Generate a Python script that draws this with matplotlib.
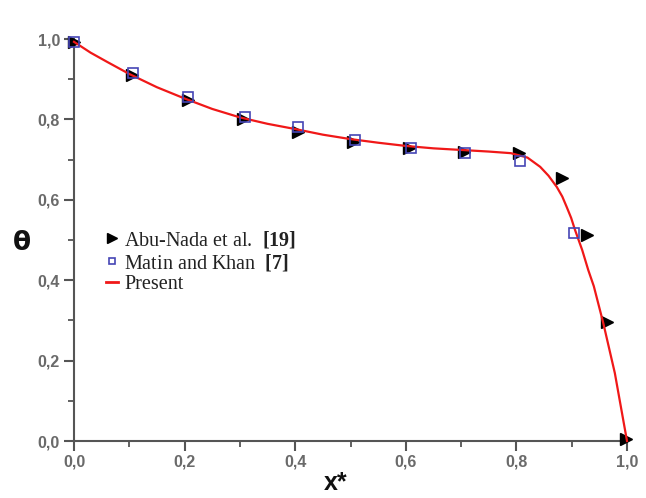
import matplotlib
matplotlib.use("Agg")
import matplotlib.pyplot as plt
from matplotlib.ticker import MultipleLocator, FuncFormatter
from matplotlib.lines import Line2D

# Abu-Nada et al. [19]
abu_x = [0.0, 0.105, 0.206, 0.306, 0.405, 0.505, 0.606, 0.705, 0.805, 0.882, 0.927, 0.963, 0.998]
abu_y = [0.993, 0.910, 0.848, 0.801, 0.769, 0.744, 0.729, 0.719, 0.716, 0.654, 0.512, 0.296, 0.005]

# Matin and Khan [7]
matin_x = [0.0, 0.107, 0.206, 0.309, 0.405, 0.508, 0.609, 0.707, 0.806, 0.904]
matin_y = [0.993, 0.915, 0.856, 0.806, 0.781, 0.749, 0.729, 0.716, 0.697, 0.517]

# Present results
present_x = [0.0, 0.03, 0.06, 0.1, 0.15, 0.2, 0.25, 0.3, 0.35, 0.4, 0.45, 0.5, 0.55,
             0.6, 0.65, 0.7, 0.75, 0.79, 0.82, 0.843, 0.858, 0.873, 0.883, 0.891,
             0.899, 0.906, 0.919, 0.930, 0.940, 0.957, 0.978, 1.0]
present_y = [0.993, 0.966, 0.943, 0.913, 0.880, 0.852, 0.826, 0.805, 0.789, 0.776,
             0.762, 0.751, 0.742, 0.734, 0.728, 0.724, 0.720, 0.716, 0.705, 0.682,
             0.660, 0.632, 0.608, 0.582, 0.555, 0.525, 0.475, 0.425, 0.385, 0.294,
             0.169, 0.0]

x_ticks = [0.0, 0.2, 0.4, 0.6, 0.8, 1.0]
y_ticks = [0.0, 0.2, 0.4, 0.6, 0.8, 1.0]

plt.rcParams["mathtext.fontset"] = "custom"
plt.rcParams["mathtext.bf"] = "Liberation Serif:bold"
plt.rcParams["mathtext.rm"] = "Liberation Serif"

fig = plt.figure(figsize=(6.46, 4.98), dpi=100)
ax = fig.add_axes([74 / 646, 1 - 441 / 498, 553 / 646, 402 / 498])

spine_col = "#555555"
ax.plot(abu_x, abu_y, linestyle="none", marker=">", markersize=9,
        color="black", clip_on=False, zorder=3)
ax.plot(present_x, present_y, color="#f01818", linewidth=1.6,
        clip_on=False, zorder=4)
ax.plot(matin_x, matin_y, linestyle="none", marker="s", markersize=7,
        markerfacecolor="none", markeredgecolor="#4545b5",
        markeredgewidth=1.2, clip_on=False, zorder=5)

ax.set_xlim(0, 1)
ax.set_ylim(0, 1)
for side in ("top", "right"):
    ax.spines[side].set_visible(False)
for side in ("left", "bottom"):
    ax.spines[side].set_color(spine_col)
    ax.spines[side].set_linewidth(1.5)

ax.set_xticks(x_ticks)
ax.set_yticks(y_ticks)
ax.xaxis.set_minor_locator(MultipleLocator(0.1))
ax.yaxis.set_minor_locator(MultipleLocator(0.1))
fmt = FuncFormatter(lambda v, p: f"{v:.1f}".replace(".", ","))
ax.xaxis.set_major_formatter(fmt)
ax.yaxis.set_major_formatter(fmt)
ax.tick_params(which="major", direction="out", length=7, width=1.5,
               color=spine_col, labelsize=11.5, labelcolor="#6a6a6a", pad=3)
ax.tick_params(which="minor", direction="out", length=4, width=1.3, color=spine_col)
for lbl in ax.get_xticklabels() + ax.get_yticklabels():
    lbl.set_fontweight("bold")
    lbl.set_family("Liberation Sans")

ax.set_ylabel("θ", rotation=0, fontsize=19, fontweight="bold",
              family="DejaVu Sans", color="#111111", va="center", ha="center")
ax.yaxis.set_label_coords(-0.094, 0.4925)
ax.set_xlabel("x*", fontsize=18, fontweight="bold", family="Liberation Sans",
              color="#111111", va="baseline")
ax.xaxis.set_label_coords(0.474, -0.121)

handles = [
    Line2D([], [], linestyle="none", marker=">", markersize=7, color="black"),
    Line2D([], [], linestyle="none", marker="s", markersize=5,
           markerfacecolor="none", markeredgecolor="#4545b5", markeredgewidth=1.2),
    Line2D([], [], color="#f01818", linewidth=2),
]
labels = [
    r"Abu-Nada et al.  $\mathbf{[19]}$",
    r"Matin and Khan  $\mathbf{[7]}$",
    "Present",
]
leg = ax.legend(handles, labels, loc="upper left", bbox_to_anchor=(0.058, 0.527),
                frameon=False, prop={"family": "Liberation Serif", "size": 14.5},
                handlelength=0.6, handletextpad=0.3, labelspacing=0.1,
                borderpad=0, borderaxespad=0)
for t in leg.get_texts():
    t.set_color("#222222")

fig.savefig("out.png", dpi=100)
